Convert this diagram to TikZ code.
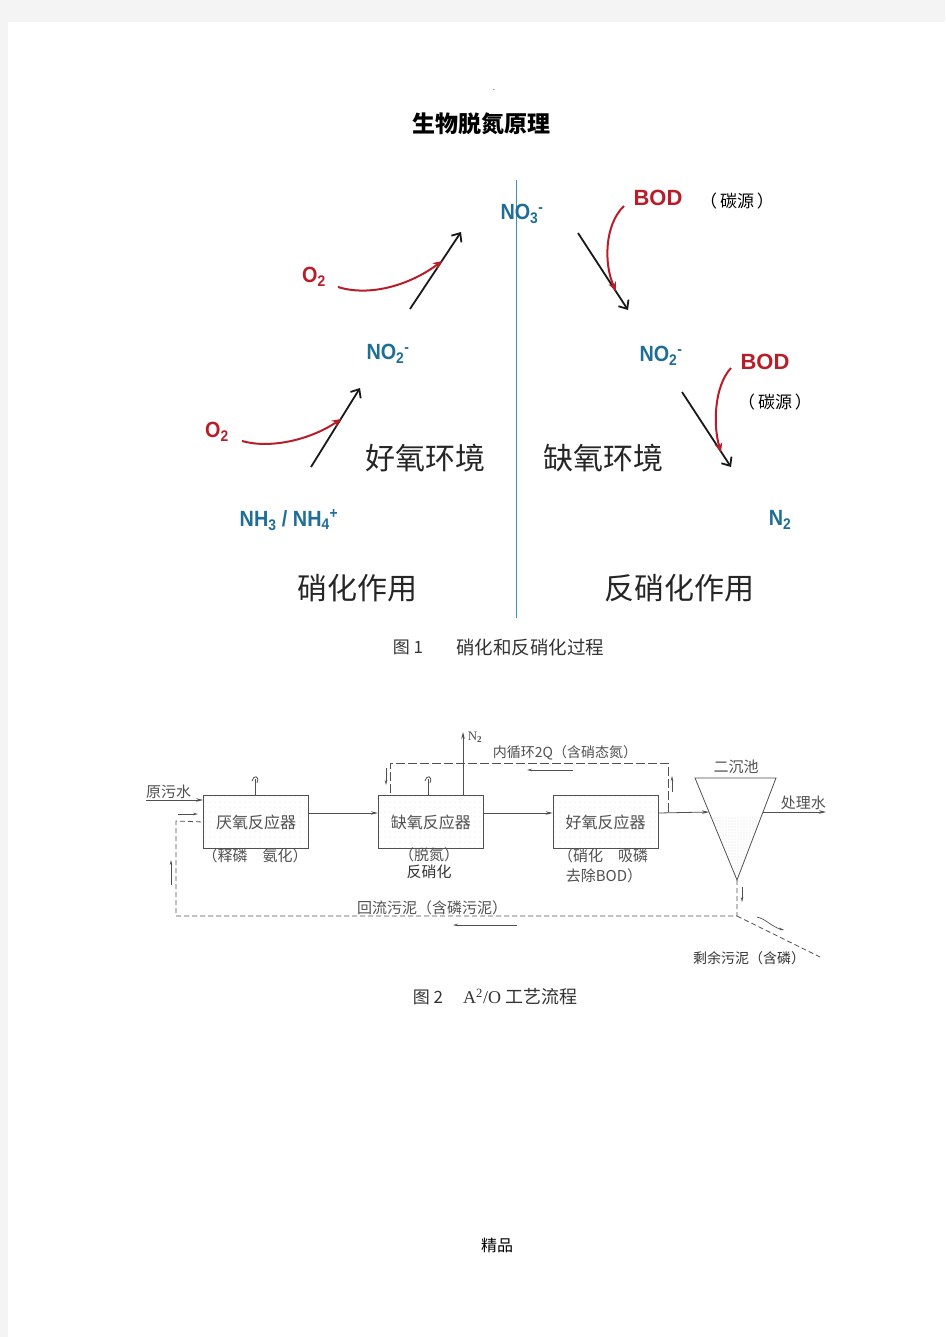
\documentclass[tikz,border=0pt]{standalone}
\usepackage{fontspec}
\setmainfont{Liberation Serif}
\newfontfamily\cjk{Noto Sans CJK SC}
\newfontfamily\lab{Liberation Sans}
\usetikzlibrary{arrows.meta,patterns.meta,positioning}
\definecolor{pagegray}{HTML}{F4F4F4}
\definecolor{chemblue}{HTML}{1F6E96}
\definecolor{chemred}{HTML}{B81E2A}
\definecolor{divline}{HTML}{3C93B4}
\definecolor{flowgray}{HTML}{505050}
\tikzset{
  chem/.style={font=\lab\bfseries\fontsize{22}{24}\selectfont,text=chemblue,inner sep=0pt,xscale=0.9},
  bod/.style={font=\lab\bfseries\fontsize{22}{24}\selectfont,text=chemred,inner sep=0pt},
  carbon/.style={font=\cjk\fontsize{17}{19}\selectfont,inner sep=0pt},
  envtext/.style={font=\cjk\fontsize{30}{32}\selectfont,text=black!85,inner sep=0pt},
  turn/.style={line width=1.8pt,black!90,-{Straight Barb[length=7pt,width=12pt]}},
  feed/.style={line width=2pt,chemred,-{Stealth[length=9pt,width=8pt]}},
  flowtext/.style={font=\cjk\fontsize{15}{17}\selectfont,text=flowgray,inner sep=0pt},
  reactor/.style={draw=flowgray,line width=0.8pt,minimum width=105pt,minimum height=53pt,
    pattern={Dots[distance=5pt,radius=0.3pt]},pattern color=gray!60,
    font=\cjk\fontsize{16}{18}\selectfont,text=flowgray},
  flow/.style={flowgray,line width=0.8pt,-{Stealth[length=7pt,width=3.5pt]}},
  recyc/.style={flowgray,line width=0.8pt,dash pattern=on 9pt off 3pt},
  sludge/.style={flowgray,line width=0.8pt,dash pattern=on 5pt off 3pt},
  small/.style={flowgray,line width=0.7pt,-{Stealth[length=5pt,width=2.5pt]}}
}
\newcommand{\stirrer}[1]{%
  \draw[flowgray,line width=0.8pt] (#1,795) -- (#1,779);
  \draw[flowgray,line width=0.8pt] (#1-3,781) .. controls (#1-2,775) and (#1+5,775) .. (#1+2,783);}
\begin{document}
\begin{tikzpicture}[x=1pt,y=-1pt]
\fill[pagegray] (0,0) rectangle (945,1337);
\fill[white] (8,22) rectangle (945,1337);
\useasboundingbox (0,0) rectangle (945,1337);

% figure 1
\node[font=\lab\fontsize{8}{8}\selectfont,inner sep=0pt] (dot) at (494,90) {.};
\node[font=\cjk\bfseries\fontsize{23}{25}\selectfont] (title) at (481,124) {生物脱氮原理};
\draw[divline,line width=1pt] (516,180) -- (516,618);

\node[chem] (no3) at (522,214) {NO\textsubscript{3}\textsuperscript{-}};
\node[chem] (no2l) at (388,354) {NO\textsubscript{2}\textsuperscript{-}};
\node[chem] (nh) at (289,520) {NH\textsubscript{3} / NH\textsubscript{4}\textsuperscript{+}};
\node[chem] (no2r) at (661,356) {NO\textsubscript{2}\textsuperscript{-}};
\node[chem] (n2r) at (780,520) {N\textsubscript{2}};
\node[chem,text=chemred] (o2a) at (314,277) {O\textsubscript{2}};
\node[chem,text=chemred] (o2b) at (217,432) {O\textsubscript{2}};
\node[bod] (boda) at (658,198) {BOD};
\node[bod] (bodb) at (765,362) {BOD};
\node[carbon] (cba) at (737,201) {（\,碳源\,）};
\node[carbon] (cbb) at (775,402) {（\,碳源\,）};

\node[envtext] (aer) at (425,458) {好氧环境};
\node[envtext] (anx) at (603,458) {缺氧环境};
\node[envtext] (nitri) at (357,588) {硝化作用};
\node[envtext] (denitri) at (679,588) {反硝化作用};

\coordinate (a1s) at (311,467); \coordinate (a1e) at (360,388);
\coordinate (a2s) at (410,309); \coordinate (a2e) at (461,232);
\coordinate (a3s) at (578,233); \coordinate (a3e) at (628,310);
\coordinate (a4s) at (682,392); \coordinate (a4e) at (731,467);
\draw[turn] (a1s) -- (a1e);
\draw[turn] (a2s) -- (a2e);
\draw[turn] (a3s) -- (a3e);
\draw[turn] (a4s) -- (a4e);

\coordinate (r1s) at (242,441); \coordinate (r1e) at (341,419);
\coordinate (r2s) at (338,287); \coordinate (r2e) at (442,261);
\coordinate (r3s) at (624,206); \coordinate (r3e) at (616,291);
\coordinate (r4s) at (731,368); \coordinate (r4e) at (721,452);
\draw[feed] (r1s) .. controls (270,449) and (310,440) .. (r1e);
\draw[feed] (r2s) .. controls (370,297) and (410,285) .. (r2e);
\draw[feed] (r3s) .. controls (604,225) and (604,265) .. (r3e);
\draw[feed] (r4s) .. controls (714,386) and (713,426) .. (r4e);

\node[font=\cjk\fontsize{17}{19}\selectfont,text=black!80,inner sep=0pt] (cap1a) at (408,647) {图 1};
\node[font=\cjk\fontsize{18.5}{20}\selectfont,text=black!80,inner sep=0pt] (cap1b) at (530,647) {硝化和反硝化过程};

% figure 2
\node[reactor] (ana) at (256,822) {厌氧反应器};
\node[reactor,right=69pt of ana] (anox) {缺氧反应器};
\node[reactor,right=69pt of anox] (aero) {好氧反应器};
\stirrer{255}
\stirrer{428}

\node[flowtext] (ana1) at (255,856) {（释磷　氨化）};
\node[flowtext] (anox1) at (429,855) {（脱氮）};
\node[flowtext,text=black!80] (anox2) at (429,872) {反硝化};
\node[flowtext] (aero1) at (603,856) {（硝化　吸磷};
\node[flowtext] (aero2) at (604,876) {去除BOD）};

\coordinate (tl) at (695,778); \coordinate (tr) at (776,778); \coordinate (apex) at (737,880);
\coordinate (coneL) at (709,812); \coordinate (coneR) at (763,812);
\begin{scope}
\clip (tl) -- (tr) -- (apex) -- cycle;
\fill[pattern={Dots[distance=3pt,radius=0.35pt]},pattern color=gray!70] (690,816) rectangle (780,885);
\end{scope}
\draw[flowgray,line width=0.8pt] (tl) -- (tr) -- (apex) -- cycle;
\node[flowtext] (clar) at (736,767) {二沉池};

\coordinate (inflow) at (146,800);
\node[flowtext,anchor=south west] (raw) at (146,799) {原污水};
\draw[flow] (inflow) -- (inflow -| ana.west);
\draw[flow] ([yshift=9pt]ana.east) -- ([yshift=9pt]anox.west);
\draw[flow] ([yshift=9pt]anox.east) -- ([yshift=9pt]aero.west);
\draw[flow] ([yshift=9pt]aero.east) -- (coneL);
\coordinate (outflow) at (826,812);
\draw[flow] (coneR) -- (outflow);
\node[flowtext,anchor=south east] (treated) at (826,810) {处理水};

% N2 off the anoxic tank
\coordinate (n2top) at (463,732);
\draw[flow] (463,795) -- (n2top);
\node[font=\fontsize{13}{14}\selectfont,text=flowgray,inner sep=0pt] (n2f) at (475,737) {N\textsubscript{\textbf{2}}};

% internal recycle
\coordinate (rjoin) at (668,812);
\draw[recyc] (rjoin) -- (668,763) -- (390,763) -- (390,795);
\node[flowtext,font=\cjk\fontsize{14}{16}\selectfont] (inrec) at (565,753) {内循环2Q（含硝态氮）};
\draw[small] (573,770) -- (527,770);
\draw[small] (672,792) -- (672,776);
\draw[small] (386,768) -- (386,785);

% sludge return
\coordinate (bot) at (737,916);
\draw[sludge] (apex) -- (bot) -- (176,916) -- (176,821) -- (ana.west);
\draw[small] (742,887) -- (742,902);
\draw[small] (178,814) -- (198,814);
\draw[small] (171,885) -- (171,860);
\node[flowtext] (ret) at (432,908) {回流污泥（含磷污泥）};
\draw[small] (517,925) -- (453,925);
\coordinate (waste) at (820,957);
\draw[sludge] (bot) -- (waste);
\draw[small] (757,917) .. controls (766,919) and (772,927) .. (784,930);
\node[flowtext,font=\cjk\fontsize{14}{16}\selectfont,text=black!80] (excess) at (749,958) {剩余污泥（含磷）};

\node[font=\cjk\fontsize{17}{19}\selectfont,text=black!80,inner sep=0pt] (cap2a) at (428,997) {图 2};
\node[font=\fontsize{18}{20}\selectfont,text=black!80,inner sep=0pt,anchor=west] (cap2b) at (463,997) {A\textsuperscript{2}/O {\cjk 工艺流程}};

\node[font=\cjk\fontsize{16}{18}\selectfont,inner sep=0pt] (foot) at (497,1245) {精品};
\end{tikzpicture}
\end{document}
